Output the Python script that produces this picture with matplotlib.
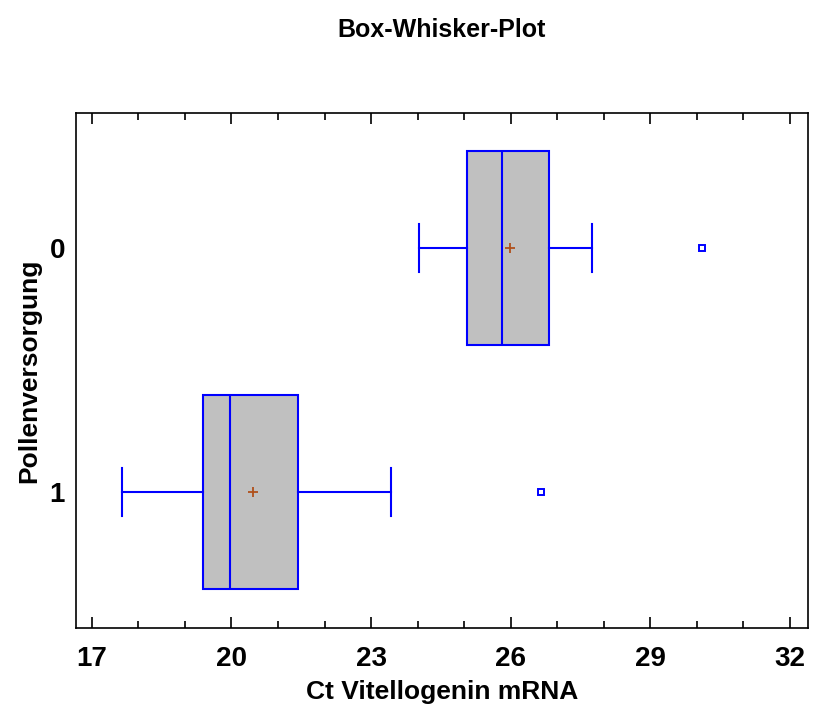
import matplotlib
matplotlib.use('Agg')
import matplotlib.pyplot as plt

# Box-Whisker data (Ct Vitellogenin mRNA)
groups = ['0', '1']
q1 = [25.06, 19.39]
medians = [25.82, 19.97]
q3 = [26.83, 21.43]
whislo = [24.03, 17.65]
whishi = [27.75, 23.43]
means = [25.99, 20.46]
outliers = [[30.12], [26.66]]
xticks = [17, 20, 23, 26, 29, 32]
xminor = list(range(17, 33))

plt.rcParams['font.family'] = ['Liberation Sans', 'DejaVu Sans']
plt.rcParams['font.weight'] = 'bold'

stats = []
for i, g in enumerate(groups):
    stats.append({'label': g, 'q1': q1[i], 'med': medians[i], 'q3': q3[i],
                  'whislo': whislo[i], 'whishi': whishi[i], 'mean': means[i],
                  'fliers': outliers[i]})

fig = plt.figure(figsize=(8.14, 7.11), dpi=100)
ax = fig.add_axes([0.0934, 0.1167, 0.8992, 0.7243])

blue = '#0000ff'
ax.bxp(stats, positions=[1, 2], widths=0.795, capwidths=0.2, vert=False,
       showmeans=True, patch_artist=True,
       boxprops=dict(facecolor='#c0c0c0', edgecolor=blue, linewidth=1.5),
       medianprops=dict(color=blue, linewidth=1.5),
       whiskerprops=dict(color=blue, linewidth=1.5),
       capprops=dict(color=blue, linewidth=1.5),
       meanprops=dict(marker='+', markeredgecolor='#b0501a', markersize=7, markeredgewidth=1.3),
       flierprops=dict(marker='s', markerfacecolor='none', markeredgecolor=blue,
                       markersize=5, markeredgewidth=1.4))

ax.set_xlim(16.66, 32.39)
ax.set_ylim(2.557, 0.447)
ax.set_xticks(xticks)
ax.set_xticks(xminor, minor=True)
ax.tick_params(axis='x', which='both', direction='in', top=True, bottom=True,
               width=1.2, labelsize=20, pad=13)
ax.tick_params(axis='x', which='major', length=8)
ax.tick_params(axis='x', which='minor', length=5)
ax.tick_params(axis='y', length=0, labelsize=20, pad=8)
for sp in ax.spines.values():
    sp.set_linewidth(1.2)

ax.set_xlabel('Ct Vitellogenin mRNA', fontsize=19, fontweight='bold', labelpad=6)
ax.set_ylabel('Pollenversorgung', fontsize=19, fontweight='bold', labelpad=6)
fig.suptitle('Box-Whisker-Plot', fontsize=18, fontweight='bold', x=0.543, y=0.975)

plt.savefig('out.png', dpi=100)
